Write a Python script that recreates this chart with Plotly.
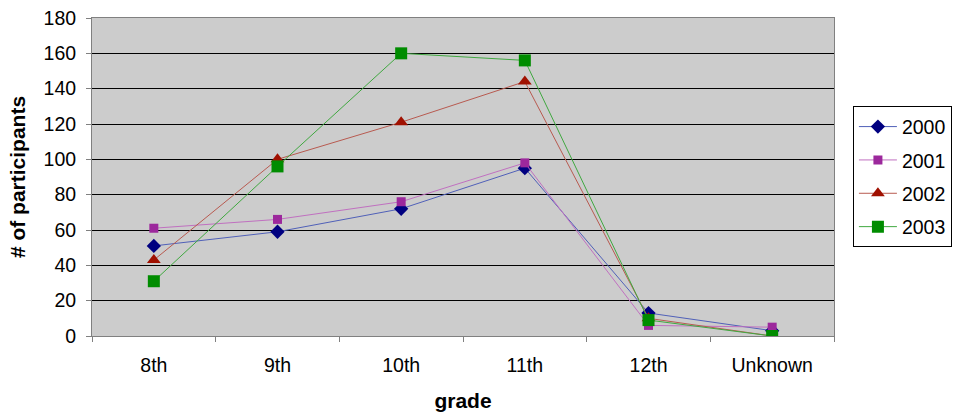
import plotly.graph_objects as go

grades = ["8th", "9th", "10th", "11th", "12th", "Unknown"]
y2000 = [51, 59, 72, 95, 13, 3]
y2001 = [61, 66, 76, 98, 6, 5]
y2002 = [43, 100, 121, 144, 10, 0]
y2003 = [31, 96, 160, 156, 9, 0]
yticks = [0, 20, 40, 60, 80, 100, 120, 140, 160, 180]

series = [
    ("2000", y2000, "diamond", 11, "#000080", "#5060b8"),
    ("2001", y2001, "square", 9, "#9c289c", "#c070c0"),
    ("2002", y2002, "triangle-up", 12, "#a01000", "#b85a50"),
    ("2003", y2003, "square", 12, "#008c00", "#40a840"),
]

FONT = "Liberation Sans, Arial, sans-serif"
TICK = 19.5
TITLE = 21
fig = go.Figure()
for name, ys, sym, size, mcol, lcol in series:
    fig.add_trace(go.Scatter(
        x=grades, y=ys, name=name, mode="lines+markers",
        legendgroup=name,
        line=dict(color=lcol, width=1),
        marker=dict(symbol=sym, size=size, color=mcol, line=dict(width=0)),
    ))

fig.update_layout(
    width=964, height=415,
    margin=dict(l=92, r=127, t=18, b=79),
    paper_bgcolor="white",
    plot_bgcolor="#cccccc",
    font=dict(family=FONT, size=TICK, color="black"),
    showlegend=True,
    legend=dict(
        x=1.0255, xanchor="left", y=0.722, yanchor="top",
        bordercolor="black", borderwidth=1, bgcolor="white",
        font=dict(size=TICK), tracegroupgap=5, itemwidth=38,
    ),
    xaxis=dict(
        type="category", range=[-0.5, 5.5], automargin=False,
        showgrid=False, ticks="outside", tickson="boundaries",
        ticklen=5, tickcolor="#808080", ticklabelstandoff=12,
        showline=True, linecolor="#808080", linewidth=1, mirror=True,
        title=dict(text="<b>grade</b>", font=dict(size=TITLE), standoff=17),
        zeroline=False,
    ),
    yaxis=dict(
        range=[0, 180], tickvals=yticks, showgrid=True, gridcolor="black", gridwidth=1,
        automargin=False,
        ticks="outside", ticklen=5, tickcolor="#808080", ticklabelstandoff=6,
        showline=True, linecolor="#808080", linewidth=1, mirror=True,
        zeroline=False, ticklabeloverflow="allow",
        title=dict(text="<b># of participants</b>", font=dict(size=TITLE), standoff=12),
    ),
)
fig.write_html("out.html", config={"displayModeBar": False},
               post_script="document.body.style.margin='0';")
